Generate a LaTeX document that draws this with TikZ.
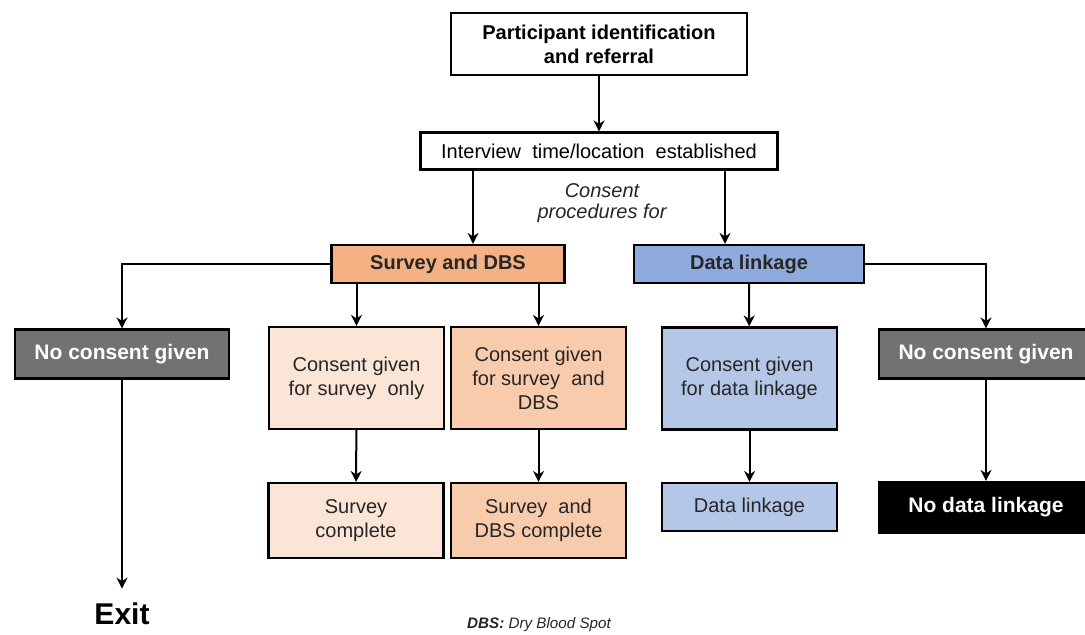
\documentclass[tikz,border=0pt]{standalone}
\usepackage{fontspec}
\setmainfont{Liberation Sans}
\usetikzlibrary{positioning,arrows.meta,calc}

\definecolor{peachhd}{HTML}{F4B183}
\definecolor{peachlt}{HTML}{FBE5D6}
\definecolor{peachmd}{HTML}{F8CBAD}
\definecolor{bluehd}{HTML}{8FAADC}
\definecolor{bluelt}{HTML}{B4C7E7}
\definecolor{greybox}{HTML}{727272}
\definecolor{inkgrey}{HTML}{262626}

\begin{document}
\begin{tikzpicture}[x=0.5pt, y=-0.5pt,
  box/.style={draw=black, line width=1.1pt, inner sep=2pt, align=center, text=inkgrey,
    font=\fontsize{10}{12}\selectfont},
  hdbox/.style={box, font=\bfseries\fontsize{10}{12}\selectfont, minimum height=19pt},
  nobox/.style={box, fill=greybox, text=white, font=\bfseries\fontsize{10.5}{12}\selectfont,
    minimum width=107pt, minimum height=24.5pt},
  cbox/.style={box, minimum width=87.5pt, minimum height=51pt},
  donebox/.style={box, minimum width=87.5pt},
  flow/.style={-{Stealth[length=5.5pt,width=5.5pt]}, line width=1pt}
]
\useasboundingbox (0,0) rectangle (1085,634);

% top of the flow
\node[box, font=\bfseries\fontsize{10}{12}\selectfont, text=black, line width=1.2pt,
  minimum width=148pt, minimum height=31pt] (refer) at (599,44)
  {Participant identification\\and referral};
\node[box, text=black, minimum width=178.5pt, minimum height=18.5pt] (interview) at (599,151)
  {Interview\ \ time/location\ \ established};
\node[align=center, text=inkgrey, font=\itshape\fontsize{10}{10.5}\selectfont] (procs) at (602,203)
  {Consent\\procedures for};

% the two consent procedures
\node[hdbox, fill=peachhd, minimum width=116.5pt] (surveyhd) at (448,264) {Survey and DBS};
\node[hdbox, fill=bluehd, minimum width=115pt] (linkhd) at (749,264) {Data linkage};
\coordinate (splitL) at (473,0);
\coordinate (splitR) at (725,0);

% outcomes of consent
\node[nobox] (noconL) at (122,354) {No consent given};
\node[cbox, fill=peachlt] (conS) at (356.5,378) {Consent given\\for survey\ \ only};
\node[cbox, fill=peachmd] (conSD) at (538.5,378) {Consent given\\for survey\ \ and\\DBS};
\node[cbox, fill=bluelt] (conL) at (749.5,378.5) {Consent given\\for data linkage};
\node[nobox] (noconR) at (986,354) {No consent given};

% end points
\node[donebox, fill=peachlt, minimum height=37.5pt] (surveyDone) at (356,520.5) {Survey\\complete};
\node[donebox, fill=peachmd, minimum height=37.5pt] (bothDone) at (538.5,520.5) {Survey\ \ and\\DBS complete};
\node[donebox, fill=bluelt, minimum height=24pt] (linkDone) at (749.5,507) {Data linkage};
\node[box, fill=black, text=white, font=\bfseries\fontsize{10.5}{12}\selectfont,
  minimum width=107pt, minimum height=25.5pt] (noLink) at (986,507.5) {No data linkage};
\node[font=\bfseries\fontsize{15}{18}\selectfont, text=black, inner sep=7pt] (exit) at (122,614) {Exit};
\node[font=\itshape\fontsize{7.6}{8}\selectfont, text=inkgrey] (note) at (539,625)
  {\textbf{DBS:} Dry Blood Spot};

% connectors
\draw[flow] (refer) -- (interview);
\draw[flow] (interview.south -| splitL) -- (splitL |- surveyhd.north);
\draw[flow] (interview.south -| splitR) -- (splitR |- linkhd.north);
\draw[flow] (surveyhd.west) -| (noconL.north);
\draw[flow] (surveyhd.south -| conS.north) -- (conS.north);
\draw[flow] (surveyhd.south -| conSD.north) -- (conSD.north);
\draw[flow] (linkhd) -- (conL);
\draw[flow] (linkhd.east) -| (noconR.north);
\draw[flow] (noconL) -- (exit);
\draw[flow] (conS) -- (surveyDone);
\draw[flow] (conSD) -- (bothDone);
\draw[flow] (conL) -- (linkDone);
\draw[flow] (noconR) -- (noLink);

\end{tikzpicture}
\end{document}
